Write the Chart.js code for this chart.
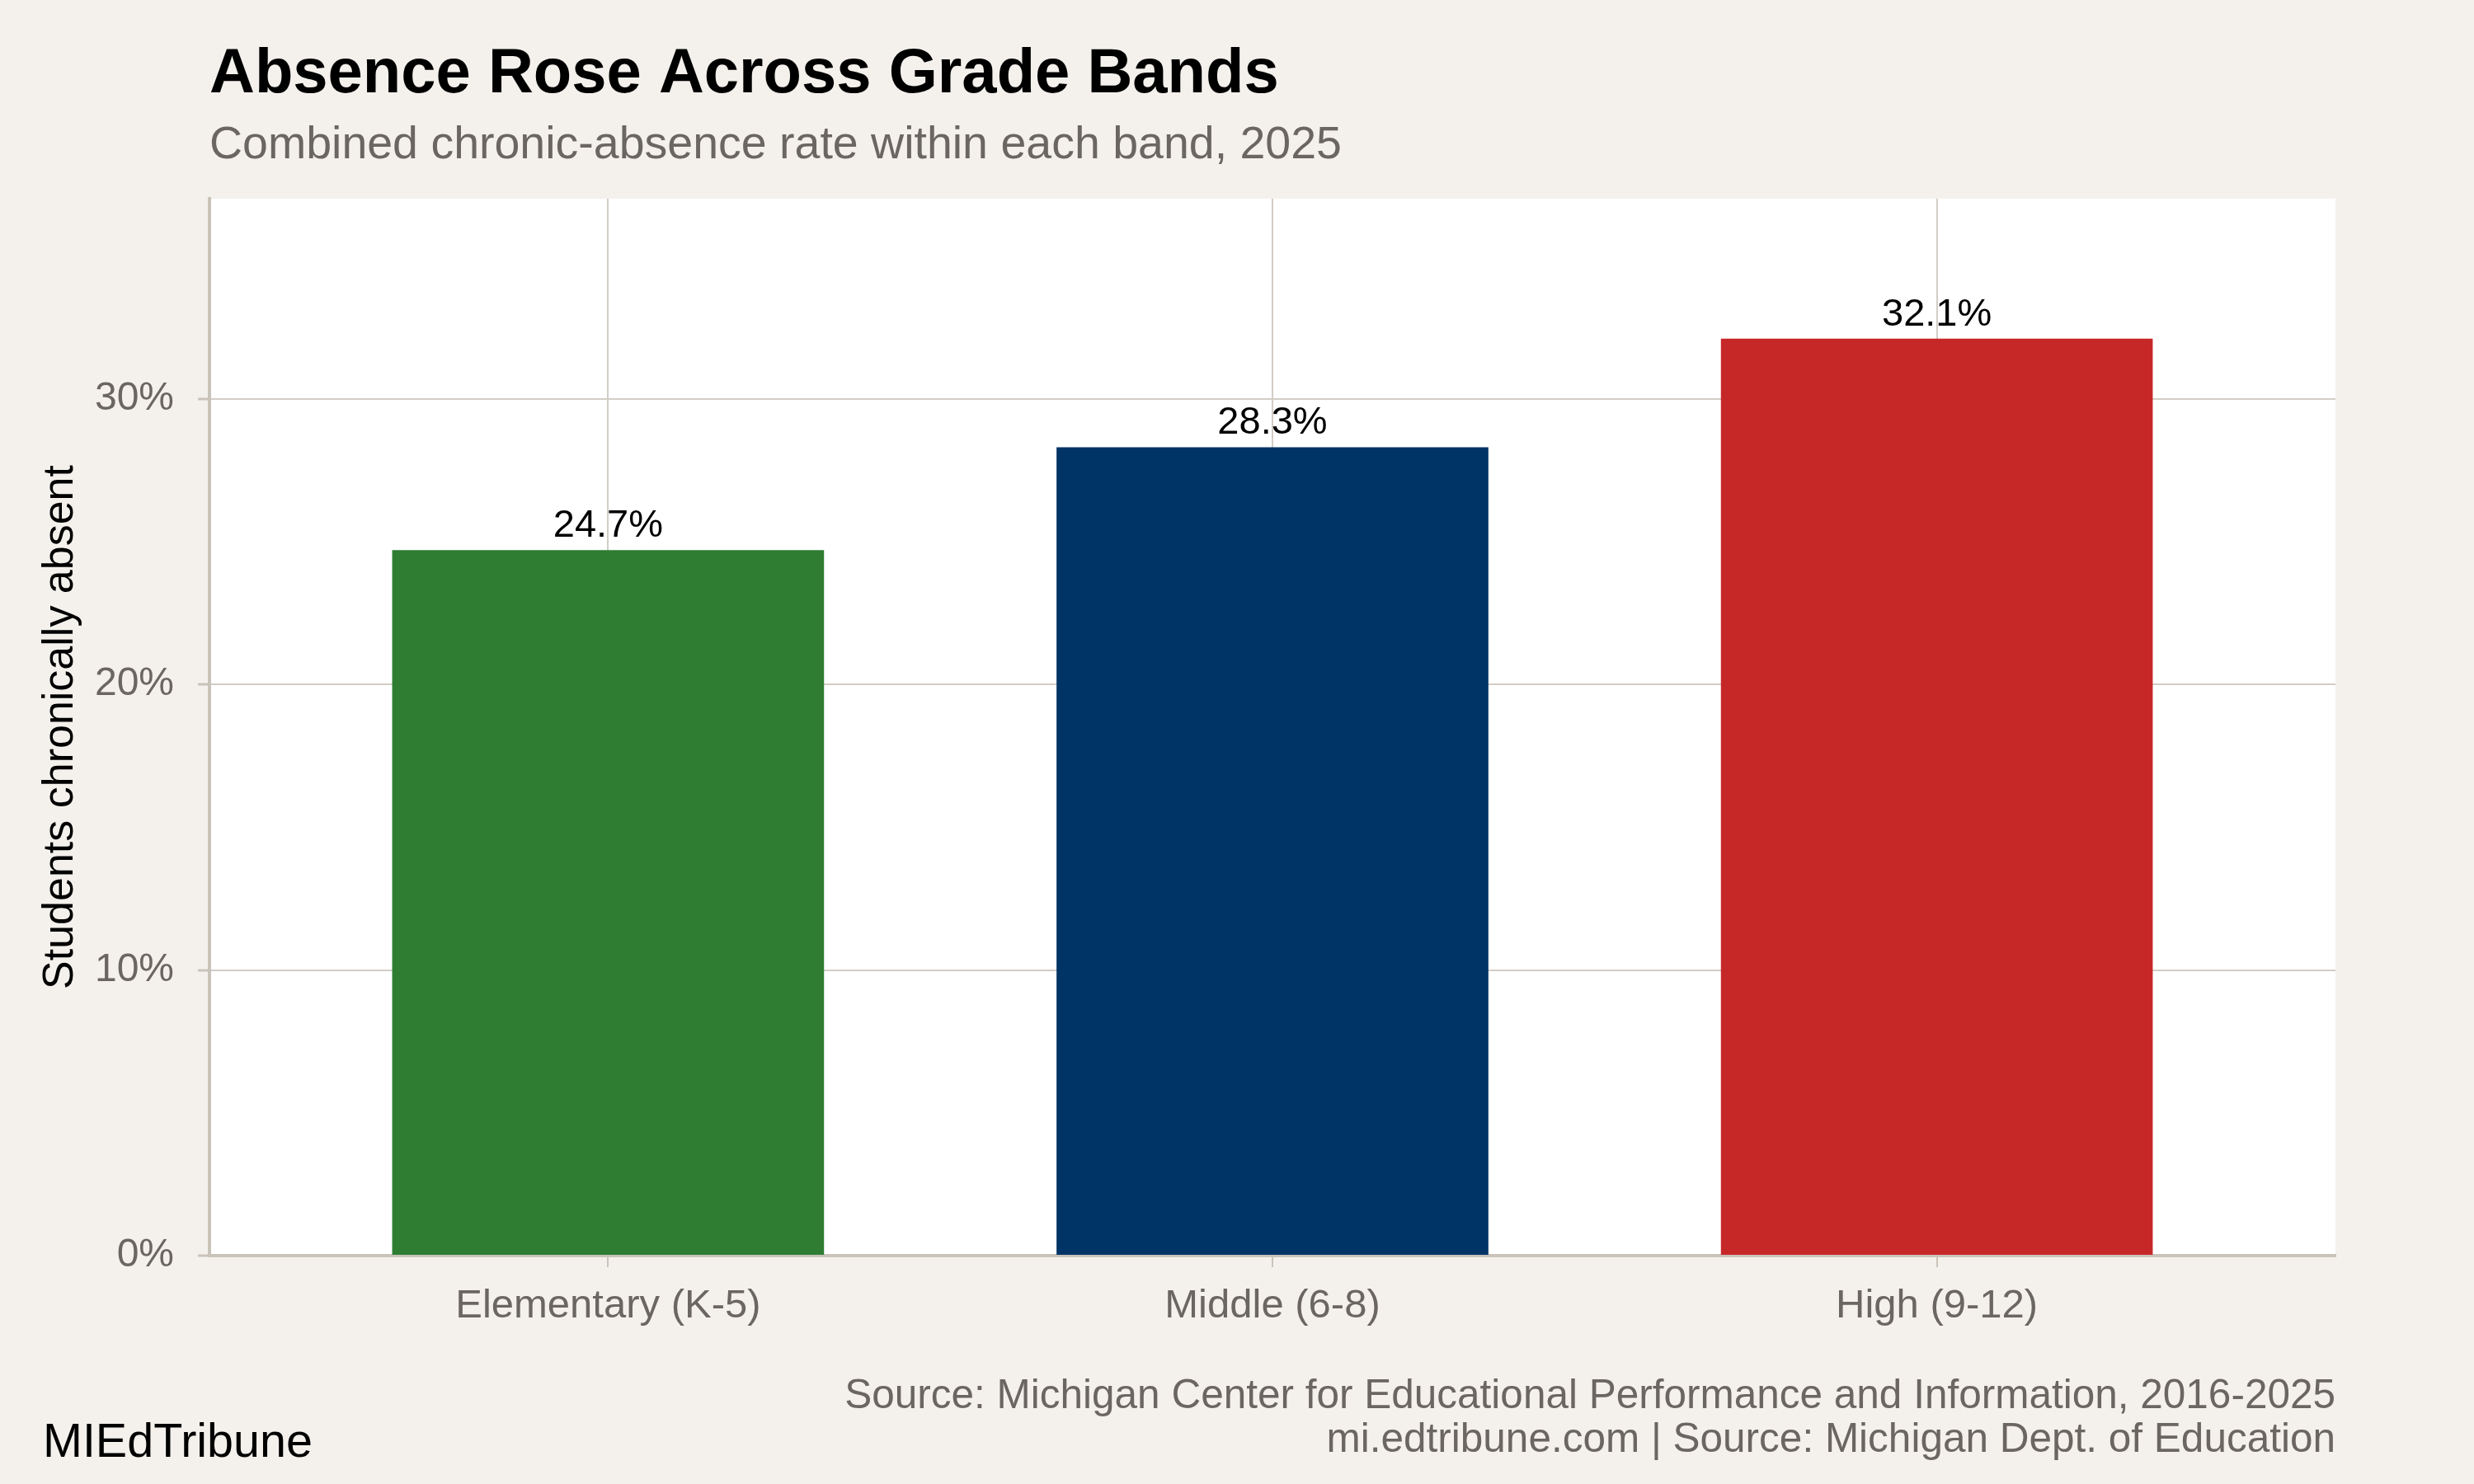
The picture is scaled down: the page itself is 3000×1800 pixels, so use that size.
<!DOCTYPE html>
<html>
<head>
<meta charset="utf-8">
<script src="https://cdn.jsdelivr.net/npm/chart.js@4/dist/chart.umd.min.js"></script>
<style>
  html, body { margin: 0; padding: 0; background: #F4F1EC; }
  canvas { display: block; }
</style>
</head>
<body>
<canvas id="chart" width="3000" height="1800" style="width:3000px;height:1800px"></canvas>
<script>
// data
const categories = ['Elementary (K-5)', 'Middle (6-8)', 'High (9-12)'];
const rates = [24.7, 28.3, 32.1];
const yTicks = [0, 10, 20, 30];
const yMax = 37;

const barColors = ['#2E7D32', '#003366', '#C62828'];
const FONT = '"Liberation Sans", Arial, Helvetica, sans-serif';
const GRID = '#D2CDC6';
const AXIS = '#C9C3BA';

const backdrop = {
    id: 'backdrop',
    beforeDraw(chart) {
        const { ctx, chartArea: a } = chart;
        ctx.save();
        ctx.fillStyle = '#F4F1EC';
        ctx.fillRect(0, 0, chart.width, chart.height);
        ctx.fillStyle = '#FFFFFF';
        ctx.fillRect(a.left, a.top, a.right - a.left, a.bottom - a.top);
        ctx.restore();
    }
};

const texts = {
    id: 'texts',
    afterDatasetsDraw(chart) {
        const { ctx } = chart;
        const meta = chart.getDatasetMeta(0);
        ctx.save();
        ctx.fillStyle = '#000';
        ctx.font = '47px ' + FONT;
        ctx.textAlign = 'center';
        ctx.textBaseline = 'alphabetic';
        meta.data.forEach((bar, i) => {
            ctx.fillText(rates[i].toFixed(1) + '%', bar.x, bar.y - 16);
        });
        ctx.restore();
    },
    afterDraw(chart) {
        const { ctx, chartArea: a } = chart;
        ctx.save();
        ctx.textBaseline = 'alphabetic';

        // title + subtitle
        ctx.textAlign = 'left';
        ctx.fillStyle = '#000';
        ctx.font = 'bold 76px ' + FONT;
        ctx.fillText('Absence Rose Across Grade Bands', a.left, 112);
        ctx.fillStyle = '#6B6661';
        ctx.font = '55.5px ' + FONT;
        ctx.fillText('Combined chronic-absence rate within each band, 2025', a.left, 192);

        // y axis title
        ctx.save();
        ctx.translate(88, (a.top + a.bottom) / 2);
        ctx.rotate(-Math.PI / 2);
        ctx.textAlign = 'center';
        ctx.fillStyle = '#000';
        ctx.font = '52px ' + FONT;
        ctx.fillText('Students chronically absent', 0, 0);
        ctx.restore();

        // footer
        ctx.textAlign = 'right';
        ctx.fillStyle = '#6B6661';
        ctx.font = '49.5px ' + FONT;
        ctx.fillText('Source: Michigan Center for Educational Performance and Information, 2016-2025', a.right, 1708);
        ctx.fillText('mi.edtribune.com | Source: Michigan Dept. of Education', a.right, 1761);

        ctx.textAlign = 'left';
        ctx.fillStyle = '#000';
        ctx.font = '57.5px ' + FONT;
        ctx.fillText('MIEdTribune', 52, 1767);
        ctx.restore();
    }
};

new Chart(document.getElementById('chart').getContext('2d'), {
    type: 'bar',
    data: {
        datasets: [{
            data: categories.map((c, i) => ({ x: i, y: rates[i] })),
            backgroundColor: barColors,
            borderWidth: 0,
            barPercentage: 0.65,
            categoryPercentage: 1.0
        }]
    },
    options: {
        responsive: false,
        animation: false,
        devicePixelRatio: 1,
        layout: { padding: { left: 54, right: 168, top: 241, bottom: 157 } },
        plugins: {
            legend: { display: false },
            tooltip: { enabled: false }
        },
        scales: {
            x: {
                type: 'linear',
                min: -0.6,
                max: 2.6,
                offset: false,
                afterFit(axis) { axis.height = 120; },
                afterBuildTicks(axis) {
                    axis.ticks = categories.map((c, i) => ({ value: i }));
                },
                grid: {
                    offset: false,
                    color: GRID,
                    lineWidth: 2,
                    drawTicks: true,
                    tickLength: 14,
                    tickColor: AXIS,
                    tickWidth: 2
                },
                border: { display: true, color: AXIS, width: 4 },
                ticks: {
                    autoSkip: false,
                    maxRotation: 0,
                    padding: 18,
                    color: '#6B6661',
                    font: { family: FONT, size: 49 },
                    callback: (v) => categories[v]
                }
            },
            y: {
                min: 0,
                max: yMax,
                afterFit(axis) { axis.width = 200; },
                afterBuildTicks(axis) {
                    axis.ticks = yTicks.map(v => ({ value: v }));
                },
                grid: {
                    color: GRID,
                    lineWidth: 2,
                    drawTicks: true,
                    tickLength: 14,
                    tickColor: AXIS,
                    tickWidth: 3
                },
                border: { display: true, color: AXIS, width: 4 },
                ticks: {
                    padding: 29,
                    color: '#6B6661',
                    font: { family: FONT, size: 48 },
                    callback: (v) => v + '%'
                }
            }
        }
    },
    plugins: [backdrop, texts]
});
</script>
</body>
</html>
